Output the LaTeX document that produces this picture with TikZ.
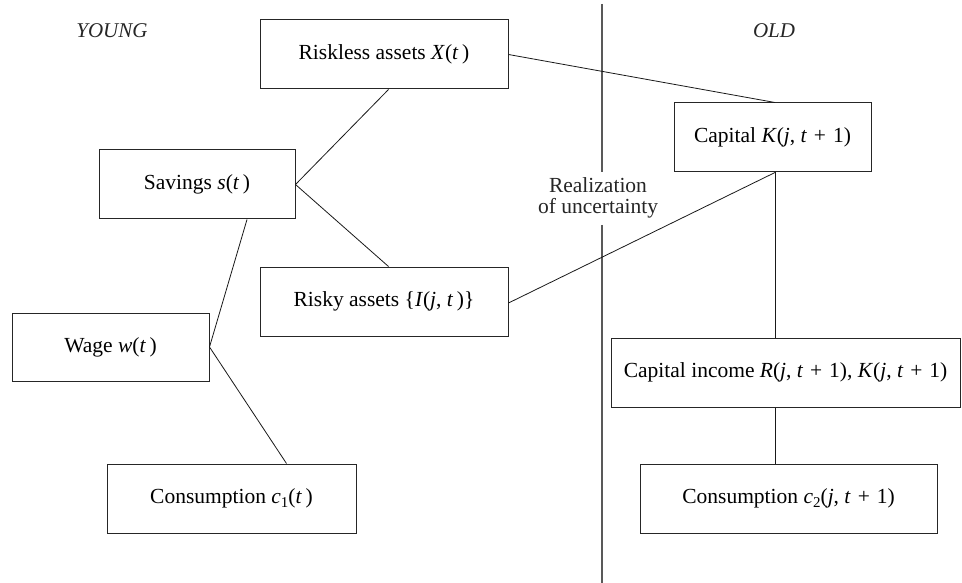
\documentclass[tikz,border=0pt]{standalone}
\usepackage{fontspec}
\setmainfont{Liberation Serif}
\newcommand{\vi}[1]{\textit{#1}}
\newcommand{\sbs}[1]{\raisebox{-0.35ex}{\fontsize{15}{15}\selectfont #1}}
\newcommand{\pl}{\hspace{0.32em}+\hspace{0.32em}}
\begin{document}
\begin{tikzpicture}[x=1pt,y=-1pt,
  box/.style={draw=black!85,line width=1pt,rectangle,inner sep=0pt,minimum height=69pt,font=\fontsize{21.5}{24}\selectfont},
  link/.style={draw=black!90,line width=0.8pt},
  lab/.style={font=\fontsize{21}{24}\selectfont\itshape,text=black!85},
  divider/.style={draw=black!65,line width=1.2pt}]
\useasboundingbox (0,0) rectangle (962,583);
\node[box,minimum width=248pt] (riskless) at (384,54.5) {Riskless assets \vi{X}(\vi{t}\,)};
\node[box,minimum width=196pt] (savings) at (197,184.5) {Savings \vi{s}(\vi{t}\,)};
\node[box,minimum width=248pt] (risky) at (384,301.5) {Risky assets \{\vi{I}(\vi{j}, \vi{t}\,)\}};
\node[box,minimum width=197pt,minimum height=68pt] (wage) at (110.5,347) {Wage \vi{w}(\vi{t}\,)};
\node[box,minimum width=249pt] (cone) at (231.5,498.5) {Consumption \vi{c}\sbs{1}(\vi{t}\,)};
\node[box,minimum width=197pt] (capital) at (772.5,137.5) {Capital \vi{K}(\vi{j}, \vi{t}\pl 1)};
\node[box,minimum width=349pt] (capinc) at (785.5,372.5) {Capital income \vi{R}(\vi{j}, \vi{t}\pl 1), \vi{K}(\vi{j}, \vi{t}\pl 1)};
\node[box,minimum width=297pt] (ctwo) at (788.5,498.5) {Consumption \vi{c}\sbs{2}(\vi{j}, \vi{t}\pl 1)};
\node[lab] (young) at (112,31) {YOUNG};
\node[lab] (old) at (774,31) {OLD};
\node[font=\fontsize{21.5}{21}\selectfont,align=center,inner sep=0pt,text=black!85] (real) at (598,198) {Realization\\of uncertainty};
\coordinate (dtop) at (602,4);
\coordinate (dgapa) at (602,172);
\coordinate (dgapb) at (602,225);
\coordinate (dbot) at (602,583);
\draw[divider] (dtop) -- (dgapa);
\draw[divider] (dgapb) -- (dbot);
\draw[link] ([xshift=4.5pt]riskless.south) -- (savings.east);
\draw[link] (savings.east) -- ([xshift=4.5pt]risky.north);
\draw[link] ([xshift=50pt]savings.south) -- (wage.east);
\draw[link] (wage.east) -- ([xshift=55pt]cone.north);
\draw[link] (riskless.east) -- ([xshift=2.5pt]capital.north);
\draw[link] ([yshift=-1.5pt]risky.east) -- ([xshift=2.5pt]capital.south);
\draw[link] ([xshift=2.5pt]capital.south) -- ([xshift=-10.5pt]capinc.north);
\draw[link] ([xshift=-10.5pt]capinc.south) -- ([xshift=-13.5pt]ctwo.north);
\end{tikzpicture}
\end{document}
